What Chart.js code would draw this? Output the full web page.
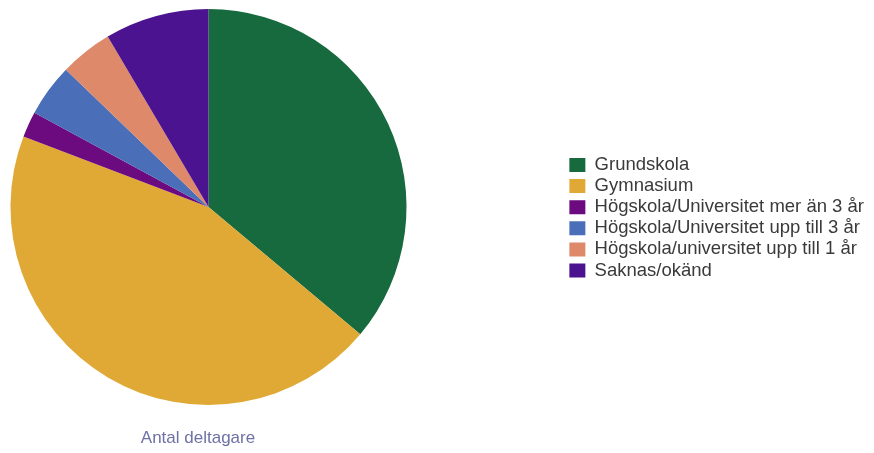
<!DOCTYPE html>
<html>
<head>
<meta charset="utf-8">
<script src="https://cdn.jsdelivr.net/npm/chart.js@4"></script>
<style>
  html, body { margin: 0; padding: 0; background: #fff; }
  #chart { display: block; }
</style>
</head>
<body>
<canvas id="chart" width="874" height="453"></canvas>
<script>
// utbildningsnivå, andel av deltagarna (%)
const labels = [
  'Grundskola',
  'Gymnasium',
  'Högskola/Universitet mer än 3 år',
  'Högskola/Universitet upp till 3 år',
  'Högskola/universitet upp till 1 år',
  'Saknas/okänd'
];
const values = [36.1, 44.7, 2.1, 4.3, 4.3, 8.5];
const colors = ['#166a3e', '#e0a935', '#6c0a80', '#4a6fb8', '#dd896a', '#4b1390'];
const titleText = 'Antal deltagare';

// tårtan ligger längst till vänster, legenden långt ut till höger
const pieCenterX = 208.5;
const titleCenterX = 198;

const placePie = {
  id: 'placePie',
  afterLayout(chart) {
    const a = chart.chartArea;
    const half = a.height / 2;
    a.left = pieCenterX - half;
    a.right = pieCenterX + half;
    a.width = a.right - a.left;
    const t = chart.titleBlock;
    if (t) {
      const w = t.right - t.left;
      t.left = titleCenterX - w / 2;
      t.right = titleCenterX + w / 2;
    }
  }
};

new Chart(document.getElementById('chart'), {
  type: 'pie',
  data: {
    labels,
    datasets: [{
      data: values,
      backgroundColor: colors,
      borderWidth: 0
    }]
  },
  options: {
    responsive: false,
    devicePixelRatio: 1,
    animation: false,
    layout: { padding: { top: 9, left: 0, right: 0, bottom: 4.8 } },
    plugins: {
      tooltip: { enabled: false },
      legend: {
        position: 'right',
        fullSize: false,
        align: 'center',
        title: { display: true, text: '', font: { size: 10 }, padding: { top: 9.5, bottom: 0 } },
        labels: {
          boxWidth: 16,
          boxHeight: 14,
          padding: 2.6,
          color: '#3a3a3a',
          font: { family: '"Liberation Sans", Arial, sans-serif', size: 18.5 }
        }
      },
      title: {
        display: true,
        text: titleText,
        position: 'bottom',
        fullSize: false,
        color: '#6e71a5',
        font: { family: '"Liberation Sans", Arial, sans-serif', size: 17, weight: 'normal' },
        padding: { top: 22.8, bottom: 0 }
      }
    }
  },
  plugins: [placePie]
});
</script>
</body>
</html>
